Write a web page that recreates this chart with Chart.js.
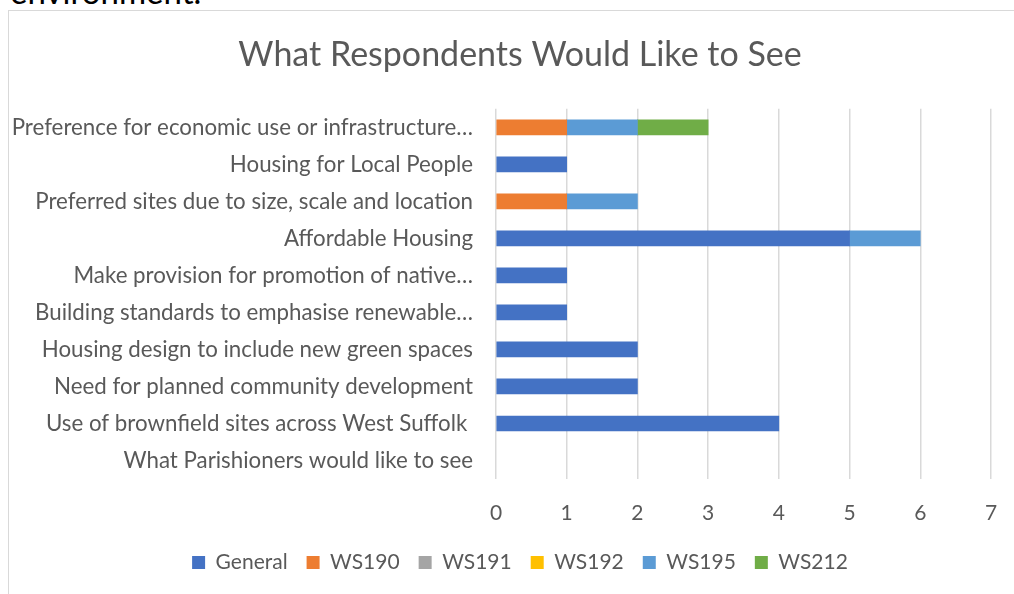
<!DOCTYPE html>
<html>
<head>
<meta charset="utf-8">
<script src="https://cdn.jsdelivr.net/npm/chart.js@4.4.1/dist/chart.umd.min.js"></script>
<style>
    html, body { margin: 0; padding: 0; background: #fff; overflow: hidden; width: 1014px; height: 594px; }
    #above {
        position: absolute; left: 10px; top: -29px;
        font-family: Lato, "Open Sans", sans-serif; font-size: 33px; color: #000;
        white-space: nowrap;
    }
    #frame {
        position: absolute; left: 8px; top: 10px; width: 1040px; height: 600px;
        border-left: 1px solid #d9d9d9; border-top: 1px solid #d9d9d9;
        box-sizing: border-box;
    }
    #wrap { position: absolute; left: 1px; top: 1px; width: 1020px; height: 583px; }
</style>
</head>
<body>
<div id="above">environment.</div>
<div id="frame">
    <div id="wrap"><canvas id="chart"></canvas></div>
</div>
<script>
// Categories, top to bottom as drawn
const categories = [
    'Preference for economic use or infrastructure…',
    'Housing for Local People',
    'Preferred sites due to size, scale and location',
    'Affordable Housing',
    'Make provision for promotion of native…',
    'Building standards to emphasise renewable…',
    'Housing design to include new green spaces',
    'Need for planned community development',
    'Use of brownfield sites across West Suffolk ',
    'What Parishioners would like to see'
];

// Series values (one per category, null = blank cell)
const general = [null, 1, null, 5, 1, 1, 2, 2, 4, null];
const ws190   = [1, null, 1, null, null, null, null, null, null, null];
const ws191   = [null, null, null, null, null, null, null, null, null, null];
const ws192   = [null, null, null, null, null, null, null, null, null, null];
const ws195   = [1, null, 1, 1, null, null, null, null, null, null];
const ws212   = [1, null, null, null, null, null, null, null, null, null];

const seriesNames = ['General', 'WS190', 'WS191', 'WS192', 'WS195', 'WS212'];
const seriesColors = ['#4472C4', '#ED7D31', '#A5A5A5', '#FFC000', '#5B9BD5', '#70AD47'];

// Axis ticks
const xTicks = [0, 1, 2, 3, 4, 5, 6, 7];

const textColor = '#595959';
const fontFamily = 'Lato, "Open Sans", sans-serif';

const datasets = [general, ws190, ws191, ws192, ws195, ws212].map((values, i) => ({
    label: seriesNames[i],
    data: values,
    backgroundColor: seriesColors[i],
    borderWidth: 0,
    barThickness: 15
}));

new Chart(document.getElementById('chart').getContext('2d'), {
    type: 'bar',
    data: { labels: categories, datasets: datasets },
    options: {
        indexAxis: 'y',
        responsive: true,
        maintainAspectRatio: false,
        animation: false,
        layout: { padding: { left: 0, right: 0, top: 0, bottom: 12 } },
        plugins: {
            title: {
                display: true,
                text: 'What Respondents Would Like to See',
                color: textColor,
                font: { family: fontFamily, size: 34, weight: 'normal' },
                padding: { top: 23, bottom: 33 }
            },
            legend: {
                position: 'bottom',
                labels: {
                    color: textColor,
                    font: { family: fontFamily, size: 21 },
                    boxWidth: 13,
                    boxHeight: 13,
                    padding: 19
                }
            },
            tooltip: { enabled: false }
        },
        scales: {
            x: {
                stacked: true,
                min: 0,
                max: 7,
                afterBuildTicks(scale) {
                    scale.ticks = xTicks.map(v => ({ value: v }));
                },
                afterFit(scale) {
                    scale.height = 54;
                    // room on the right so the plot ends short of the legend's centre line
                    scale.paddingRight = 39;
                },
                grid: { color: '#d9d9d9', lineWidth: 1.5, drawTicks: false },
                border: { display: false },
                ticks: {
                    color: textColor,
                    font: { family: fontFamily, size: 21 },
                    padding: 22
                }
            },
            y: {
                stacked: true,
                afterFit(scale) { scale.width = 486; },
                grid: { display: false, drawTicks: false },
                border: { display: false },
                ticks: {
                    color: textColor,
                    font: { family: fontFamily, size: 22.3 },
                    padding: 23,
                    autoSkip: false
                }
            }
        }
    }
});
</script>
</body>
</html>
